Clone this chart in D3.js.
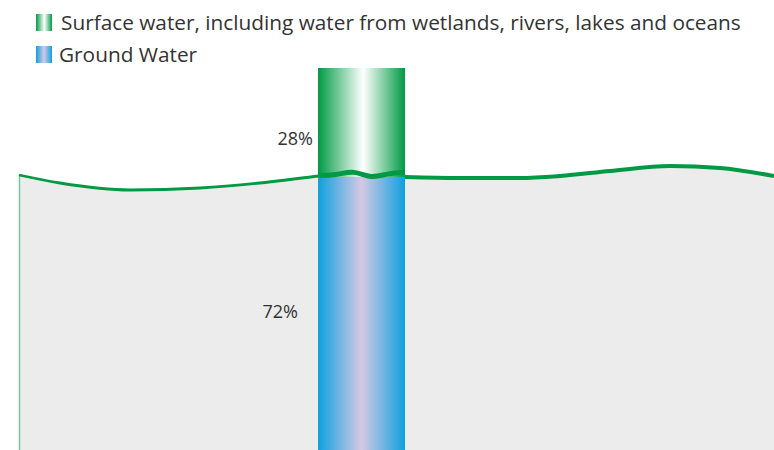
<!DOCTYPE html>
<html><head><meta charset="utf-8">
<script src="https://cdn.jsdelivr.net/npm/d3@7"></script>
<style>body{margin:0;background:#fff}svg{display:block}</style>
</head><body>
<svg id="c" width="774" height="450"></svg>
<script>
const categories = ["Surface water, including water from wetlands, rivers, lakes and oceans", "Ground Water"];
const values = [28, 72];
const labels = ["28%", "72%"];
// decorative water-surface wave (x, y) in pixels of the background scene
const waveX = [19, 60, 130, 200, 260, 318, 405, 460, 520, 560, 610, 670, 720, 774];
const waveY = [175, 183, 190, 188, 183, 176, 177, 178, 178, 176, 171, 166, 168, 176];

const svg = d3.select("#c");
const W = 774, H = 450;
const defs = svg.append("defs");
function grad(id, edge, mid, midPos) {
  const g = defs.append("linearGradient").attr("id", id).attr("x1", "0").attr("x2", "1").attr("y1", "0").attr("y2", "0");
  g.append("stop").attr("offset", "0").attr("stop-color", edge);
  g.append("stop").attr("offset", midPos).attr("stop-color", mid);
  g.append("stop").attr("offset", "1").attr("stop-color", edge);
}
grad("gSurf", "#009A44", "#FFFFFF", "0.52");
grad("gGround", "#0FA0E0", "#D5C9E3", "0.5");

// background ground area
const line = d3.line().x(d => d[0]).y(d => d[1]).curve(d3.curveMonotoneX);
const pts = waveX.map((x, i) => [x, waveY[i]]);
const area = d3.area().x(d => d[0]).y0(H).y1(d => d[1]).curve(d3.curveMonotoneX);
svg.append("path").attr("d", area(pts)).attr("fill", "#EBECEB");
svg.append("line").attr("x1", 19.5).attr("x2", 19.5).attr("y1", waveY[0]).attr("y2", H)
  .attr("stroke", "#7CC79A").attr("stroke-width", 1.5);
svg.append("path").attr("d", line(pts.slice(0, 6))).attr("fill", "none").attr("stroke", "#009A44").attr("stroke-width", 2.8);
svg.append("path").attr("d", line(pts.slice(6))).attr("fill", "none").attr("stroke", "#009A44").attr("stroke-width", 4);

// stacked bar
const x = d3.scaleBand().domain(["water"]).range([318, 405]).padding(0);
const y = d3.scaleLinear().domain([0, 100]).range([H, 68]);
const rows = [{ key: "water", surface: values[0], ground: values[1] }];
const stack = d3.stack().keys(["ground", "surface"]);
const series = stack(rows);
const fills = { ground: "url(#gGround)", surface: "url(#gSurf)" };
svg.selectAll("g.s").data(series).join("g").attr("class", "s")
  .selectAll("rect").data(s => s.map(d => ({ d, key: s.key })))
  .join("rect")
  .attr("x", d => x(d.d.data.key)).attr("width", x.bandwidth())
  .attr("y", d => y(d.d[1])).attr("height", d => y(d.d[0]) - y(d.d[1]) + (d.key === "surface" ? 2 : 0))
  .attr("fill", d => fills[d.key]);

// wavy boundary across bar
const bY = y(values[1]);
const x0 = x("water"), bw = x.bandwidth();
const wv = [[0, 0.5], [0.2, 0.5], [0.42, -5], [0.6, 4], [0.82, -2], [1, -2.5]].map(p => [x0 + p[0] * bw, bY + p[1]]);
svg.append("path").attr("d", d3.line().curve(d3.curveBasis)(wv)).attr("fill", "none")
  .attr("stroke", "#009A44").attr("stroke-width", 5);

// value labels
const font = "'Open Sans', sans-serif";
svg.append("text").attr("x", 313).attr("y", 145).attr("text-anchor", "end")
  .attr("font-family", font).attr("font-size", 18).attr("fill", "#333").text(labels[0]);
svg.append("text").attr("x", 298).attr("y", y(values[1] / 2) + 5.5).attr("text-anchor", "end")
  .attr("font-family", font).attr("font-size", 18).attr("fill", "#333").text(labels[1]);

// legend
const lg = svg.append("g");
const legY = [14, 46];
const legFill = ["url(#gSurf)", "url(#gGround)"];
categories.forEach((c, i) => {
  lg.append("rect").attr("x", 36).attr("y", legY[i]).attr("width", 16).attr("height", 17).attr("fill", legFill[i]);
  lg.append("text").attr("x", i === 0 ? 61 : 59).attr("y", legY[i] + 16).attr("font-family", font)
    .attr("font-size", 20.8).attr("fill", "#333").text(c);
});
</script>
</body></html>
